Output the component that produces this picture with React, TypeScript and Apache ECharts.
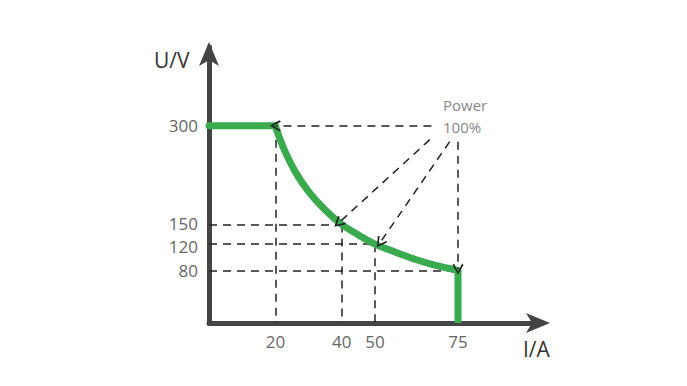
import React, { useEffect, useRef } from "react";
import * as echarts from "echarts";

// Tick labels
const xTicks = [20, 40, 50, 75];
const yTicks = [80, 120, 150, 300];

// Constant-voltage segment, constant-power curve and current-limit drop (I/A, U/V)
const flatSegment = [[0, 300], [20, 300]];
const powerCurve = [
  [20, 300], [21, 285], [23, 260], [26, 230], [30, 200], [35, 172],
  [40, 150], [45, 134], [50, 120], [56, 108], [62, 97], [68, 88], [75, 80],
];
const dropSegment = [[75, 80], [75, 0]];

// Dashed guide lines (no arrow)
const guideLines = [
  [[20, 300], [20, 0]],
  [[0, 150], [40, 150]],
  [[40, 150], [40, 0]],
  [[0, 120], [50, 120]],
  [[50, 120], [50, 0]],
  [[0, 80], [75, 80]],
];
// Dashed arrows from the "Power 100%" note
const arrowLines = [
  [[67, 300], [20, 300]],
  [[66.5, 279], [39, 152]],
  [[72.5, 276], [51.5, 122]],
  [[75, 276], [75, 82]],
];

const chevron = "path://M5,0 L10,8 L8.8,9.2 L5,2.6 L1.2,9.2 L0,8 Z";

export default function App() {
  const ref = useRef<HTMLDivElement>(null);
  useEffect(() => {
    const chart = echarts.init(ref.current!, null, { renderer: "svg" });
    const axisColor = "#444";
    const green = "#3aaa4f";
    const font = { color: "#666", fontSize: 17, lineHeight: 17, fontFamily: "Open Sans" };
    chart.setOption({
      animation: false,
      backgroundColor: "#fff",
      grid: { left: 201, top: 39, width: 332, height: 276 },
      xAxis: {
        type: "value",
        min: 0,
        max: 100,
        axisLine: {
          lineStyle: { color: axisColor, width: 5 },
          symbol: ["none", "arrow"],
          symbolSize: [15, 24],
          symbolOffset: [0, 9],
        },
        axisTick: { show: false },
        splitLine: { show: false },
        axisLabel: { ...font, customValues: xTicks, margin: 10 },
      },
      yAxis: {
        type: "value",
        min: 0,
        max: 420,
        axisLine: {
          lineStyle: { color: axisColor, width: 5 },
          symbol: ["none", "arrow"],
          symbolSize: [15, 24],
          symbolOffset: [0, 5],
        },
        axisTick: { show: false },
        splitLine: { show: false },
        axisLabel: {
          ...font,
          customValues: yTicks,
          margin: 11,
          formatter: (v: number) =>
            v === 120 ? `{down|${v}}` : v === 150 ? `{up|${v}}` : `{n|${v}}`,
          rich: {
            n: { ...font },
            up: { ...font, padding: [0, 0, 2, 0] },
            down: { ...font, padding: [5, 0, 0, 0] },
          },
        },
      },
      graphic: [
        { type: "text", left: 146, top: 41, style: { text: "U/V", fontSize: 21, fontFamily: "Open Sans", fill: "#333" } },
        { type: "text", left: 515, top: 330, style: { text: "I/A", fontSize: 21, fontFamily: "Open Sans", fill: "#333" } },
        { type: "text", left: 435, top: 86, style: { text: "Power\n100%", fontSize: 15, lineHeight: 22, align: "center", fontFamily: "Open Sans", fill: "#888" } },
      ],
      series: [
        {
          type: "lines",
          coordinateSystem: "cartesian2d",
          silent: true,
          symbol: "none",
          lineStyle: { color: "#222", width: 1.5, type: [8, 6], opacity: 1 },
          data: guideLines.map((c) => ({ coords: c })),
          z: 1,
        },
        {
          type: "lines",
          coordinateSystem: "cartesian2d",
          silent: true,
          symbol: ["none", chevron],
          symbolSize: 11,
          lineStyle: { color: "#222", width: 1.5, type: [8, 6], opacity: 1 },
          itemStyle: { color: "#222" },
          data: arrowLines.map((c) => ({ coords: c })),
          z: 3,
        },
        {
          type: "line",
          data: flatSegment,
          showSymbol: false,
          lineStyle: { color: green, width: 7, cap: "round" },
          z: 2,
        },
        {
          type: "line",
          data: powerCurve,
          smooth: 0.3,
          showSymbol: false,
          lineStyle: { color: green, width: 7, cap: "round", join: "round" },
          z: 2,
        },
        {
          type: "line",
          data: dropSegment,
          showSymbol: false,
          lineStyle: { color: green, width: 7, cap: "butt" },
          z: 2,
        },
      ],
    });
    return () => chart.dispose();
  }, []);
  return <div ref={ref} style={{ width: 671, height: 370 }} />;
}
